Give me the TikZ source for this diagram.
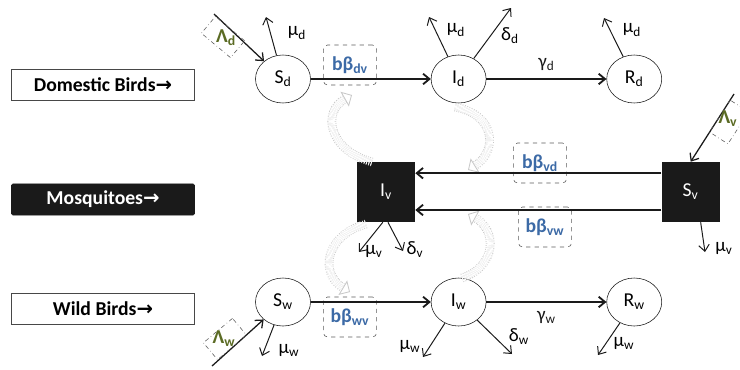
\documentclass[tikz,border=0pt]{standalone}
\usepackage{fontspec}
\setmainfont{Carlito}
\newfontfamily\arrowfont{DejaVu Sans}
\usetikzlibrary{arrows.meta,shapes.geometric,positioning}
\definecolor{Ink}{HTML}{1A1A1A}
\definecolor{BetaBlue}{HTML}{3C6AA6}
\definecolor{LambdaGreen}{HTML}{5B6B24}
\definecolor{BoxGray}{HTML}{5A5A5A}
\definecolor{CurlGray}{HTML}{C8C8C8}
\newcommand{\rarr}{{\arrowfont\bfseries →}}
\newcommand{\sub}[1]{\textsubscript{#1}}

\begin{document}
\begin{tikzpicture}[x=0.025cm, y=-0.025cm, >={Straight Barb[length=4.5pt,width=7.5pt]}]
  \tikzstyle{group} = [rectangle, draw=Ink!80, fill=white, minimum width=4.575cm, minimum height=0.78cm, font=\fontsize{14}{16}\selectfont\bfseries]
  \tikzstyle{bird} = [ellipse, draw=Ink, fill=white, minimum width=1.375cm, minimum height=1.2cm, inner sep=0pt, font=\fontsize{14}{16}\selectfont]
  \tikzstyle{vector} = [rectangle, fill=Ink, text=white, minimum width=1.45cm, minimum height=1.5cm, font=\fontsize{14}{16}\selectfont]
  \tikzstyle{rate} = [rectangle, draw=BoxGray, dashed, rounded corners=3pt, minimum width=1.33cm, minimum height=1cm, text=BetaBlue, font=\fontsize{14}{16}\selectfont\bfseries]
  \tikzstyle{lambox} = [rectangle, draw=BoxGray, dash dot, minimum width=0.95cm, minimum height=0.55cm]
  \tikzstyle{lamtext} = [text=LambdaGreen, font=\fontsize{14}{16}\selectfont\bfseries]
  \tikzstyle{param} = [font=\fontsize{13.5}{15}\selectfont, inner sep=0pt]
  \tikzstyle{flow} = [->, line width=1.3pt, Ink]
  \tikzstyle{loss} = [->, line width=0.7pt, Ink]
  \tikzstyle{curl} = [CurlGray, densely dotted, line width=0.6pt, double distance=5pt, -{Triangle[open,length=6pt,width=12pt]}]

  \useasboundingbox (0,0) rectangle (740,369);

  % row labels
  \node [group] (dlab) at (103,85) {Domestic Birds\rarr};
  \node [group, fill=Ink, draw=Ink, text=white, rounded corners=1pt] (mlab) at (103,199.5) {Mosquitoes\rarr};
  \node [group] (wlab) at (103,309) {Wild Birds\rarr};

  % compartments
  \node [bird] (Sd) at (283,79) {S\sub{d}};
  \node [bird, right=3cm of Sd] (Id) {I\sub{d}};
  \node [bird, right=3cm of Id] (Rd) {R\sub{d}};
  \node [vector] (Iv) at (386,192) {I\sub{v}};
  \node [vector, right=6.15cm of Iv] (Sv) {S\sub{v}};
  \node [bird] (Sw) at (283,302) {S\sub{w}};
  \node [bird, right=3cm of Sw] (Iw) {I\sub{w}};
  \node [bird, right=3cm of Iw] (Rw) {R\sub{w}};

  % transmission rates
  \node [rate] (bdv) at (350,65) {bβ\sub{dv}};
  \node [rate] (bvd) at (540,163) {bβ\sub{vd}};
  \node [rate] (bvw) at (545,227) {bβ\sub{vw}};
  \node [rate] (bwv) at (350,317) {bβ\sub{wv}};

  % cross-infection curls
  \draw [curl] (372,162) .. controls (328,150) and (322,112) .. (352,95);
  \draw [curl] (455,107) .. controls (497,115) and (497,152) .. (468,170);
  \draw [curl] (366,224) .. controls (324,236) and (320,274) .. (350,292);
  \draw [curl] (462,278) .. controls (497,266) and (497,230) .. (468,214);

  % main flows
  \draw [flow] (Sd) -- (Id);
  \draw [flow] (Id) -- node [param, above=5pt] (gd) {γ\sub{d}} (Rd);
  \draw [flow] ([yshift=0.47cm]Sv.west) -- ([yshift=0.47cm]Iv.east);
  \draw [flow] ([yshift=-0.45cm]Sv.west) -- ([yshift=-0.45cm]Iv.east);
  \draw [flow] (Sw) -- (Iw);
  \draw [flow] (Iw) -- node [param, below=6pt] (gw) {γ\sub{w}} (Rw);

  % recruitment
  \coordinate (lamd) at (214,14);
  \coordinate (lamv) at (734,94);
  \coordinate (lamw) at (212,366);
  \draw [flow, line width=0.9pt] (lamd) -- (Sd);
  \draw [flow, line width=0.9pt] (lamv) -- (Sv.north);
  \draw [flow, line width=0.9pt] (lamw) -- (Sw);
  \node [lambox, rotate=-40] (lamdbox) at (223,37) {};
  \node [lamtext] (lamdtext) at (226,38) {Λ\sub{d}};
  \node [lambox, rotate=57] (lamvbox) at (729,122) {};
  \node [lamtext] (lamvtext) at (728,119) {Λ\sub{v}};
  \node [lambox, rotate=40] (lamwbox) at (225,339) {};
  \node [lamtext] (lamwtext) at (224,339) {Λ\sub{w}};

  % deaths
  \coordinate (muSd) at (266,17);
  \coordinate (muId) at (429,17);
  \coordinate (deId) at (511,8);
  \coordinate (muRd) at (604,18);
  \coordinate (muIv) at (359,252);
  \coordinate (deIv) at (403,251);
  \coordinate (muSv) at (705,252);
  \coordinate (muSw) at (262,356);
  \coordinate (muIw) at (423,357);
  \coordinate (deIw) at (512,354);
  \coordinate (muRw) at (598,355);
  \draw [loss] (Sd) -- (muSd);
  \draw [loss] (Id) -- (muId);
  \draw [loss] (Id) -- (deId);
  \draw [loss] (Rd) -- (muRd);
  \draw [loss] ([xshift=-0.08cm]Iv.south) -- (muIv);
  \draw [loss] ([xshift=0.05cm]Iv.south) -- (deIv);
  \draw [loss] ([xshift=0.25cm]Sv.south) -- (muSv);
  \draw [loss] (Sw) -- (muSw);
  \draw [loss] (Iw) -- (muIw);
  \draw [loss] (Iw) -- (deIw);
  \draw [loss] (Rw) -- (muRw);
  \node [param] (lmuSd) at (297,33) {μ\sub{d}};
  \node [param] (lmuId) at (456,30) {μ\sub{d}};
  \node [param] (ldeId) at (510,36) {δ\sub{d}};
  \node [param] (lmuRd) at (632,30) {μ\sub{d}};
  \node [param] (lmuIv) at (374,251) {μ\sub{v}};
  \node [param] (ldeIv) at (415,250) {δ\sub{v}};
  \node [param] (lmuSv) at (724,248) {μ\sub{v}};
  \node [param] (lmuSw) at (289,350) {μ\sub{w}};
  \node [param] (lmuIw) at (410,346) {μ\sub{w}};
  \node [param] (ldeIw) at (519,337) {δ\sub{w}};
  \node [param] (lmuRw) at (624,343) {μ\sub{w}};
\end{tikzpicture}
\end{document}
